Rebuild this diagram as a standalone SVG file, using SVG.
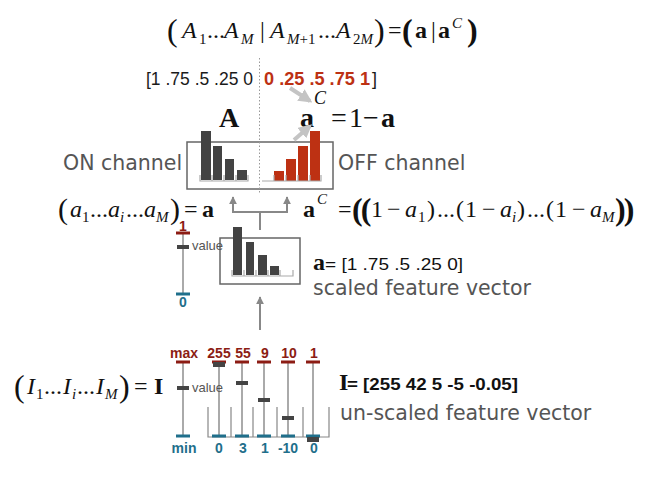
<svg xmlns="http://www.w3.org/2000/svg" width="667" height="481" viewBox="0 0 667 481">
<style>
.m{font-family:"Liberation Serif","Times New Roman",serif;font-size:24px;fill:#111}
.i{font-style:italic}
.b{font-weight:bold}
.sub{font-size:15px}
.big{font-size:32px}
.ar{font-family:"Liberation Sans",Arial,sans-serif}
.lbl{font-family:"DejaVu Sans",Verdana,sans-serif;font-size:20.5px;fill:#555}
.dk{fill:#434343}
.rd{fill:#bd3113}
.ax{fill:none;stroke:#aaa;stroke-width:1.2}
.box{fill:none;stroke:#666;stroke-width:1.5}
.col{stroke:#aaa;stroke-width:2}
.tmax{stroke:#8c1c14;stroke-width:3}
.tmin{stroke:#1f6f8b;stroke-width:3}
.mx{font-family:"Liberation Sans",Arial,sans-serif;font-size:14px;font-weight:bold;fill:#8c1c14;text-anchor:middle}
.mn{font-family:"Liberation Sans",Arial,sans-serif;font-size:14px;font-weight:bold;fill:#1f6f8b;text-anchor:middle}
.val{font-family:"Liberation Sans",Arial,sans-serif;font-size:13px;fill:#555}
.conn{fill:none;stroke:#888;stroke-width:2}
.lg{fill:none;stroke:#c4c4c4;stroke-width:4}
</style>
<defs>
<marker id="ah" viewBox="0 0 10 10" refX="9" refY="5" markerWidth="4" markerHeight="4" orient="auto" markerUnits="strokeWidth">
<path d="M0,0 L10,5 L0,10 z" fill="#888"/>
</marker>
<marker id="ahl" viewBox="0 0 10 10" refX="8" refY="5" markerWidth="3.4" markerHeight="3.4" orient="auto" markerUnits="strokeWidth">
<path d="M0,0 L10,5 L0,10 z" fill="#c4c4c4"/>
</marker>
</defs>

<!-- top equation -->
<g id="eq-top" class="m">
<text x="167" y="41" class="big">(</text>
<text x="182" y="38" class="i">A</text>
<text x="199" y="44" class="sub">1</text>
<text x="207" y="38">...</text>
<text x="224" y="38" class="i">A</text>
<text x="241" y="44" class="sub i">M</text>
<text x="260" y="38">|</text>
<text x="270" y="38" class="i">A</text>
<text x="287" y="44" class="sub"><tspan class="i">M</tspan>+1</text>
<text x="318" y="38">...</text>
<text x="336" y="38" class="i">A</text>
<text x="353" y="44" class="sub">2<tspan class="i">M</tspan></text>
<text x="374" y="41" class="big">)</text>
<text x="388" y="38">=</text>
<text x="402" y="41" class="big b">(</text>
<text x="415" y="38" class="b">a</text>
<text x="431" y="38">|</text>
<text x="438" y="38" class="b">a</text>
<text x="452" y="28" class="sub i">C</text>
<text x="467" y="41" class="big b">)</text>
</g>

<!-- vector values -->
<g id="vec-top">
<text x="146" y="85" class="ar" font-size="18" fill="#1a1a1a" textLength="107" lengthAdjust="spacingAndGlyphs">[1 .75 .5 .25 0</text>
<text x="264" y="85" class="ar" font-size="18" font-weight="bold" fill="#bd3113" textLength="106" lengthAdjust="spacingAndGlyphs">0 .25 .5 .75 1</text>
<text x="372" y="85" class="ar" font-size="18" fill="#1a1a1a">]</text>
</g>

<!-- complement equation -->
<g id="eq-complement" class="m" style="font-size:28px">
<text x="300" y="127" class="b">a</text>
<text x="314" y="104" class="i" font-size="18">C</text>
<text x="331" y="127">=</text>
<text x="349" y="127">1</text>
<text x="363" y="127">−</text>
<text x="381" y="127" class="b">a</text>
</g>

<g id="label-A" class="m">
<text x="219" y="127" class="b" font-size="28">A</text>
</g>

<!-- channel box -->
<g id="channel-box">
<rect x="187" y="142" width="146" height="47" class="box"/>
<rect x="201" y="131" width="10" height="49" class="dk"/>
<rect x="213" y="146" width="9" height="34" class="dk"/>
<rect x="225" y="159" width="9" height="21" class="dk"/>
<rect x="237" y="170" width="10" height="10" class="dk"/>
<path d="M200,175V181H248V175M212,175V181M224,175V181M236,175V181" class="ax"/>
<rect x="274" y="171" width="10" height="10" class="rd"/>
<rect x="286" y="159" width="10" height="22" class="rd"/>
<rect x="298" y="146" width="10" height="35" class="rd"/>
<rect x="310" y="131" width="10" height="50" class="rd"/>
<path d="M262,181H321V175M274,175V181M286,175V181M298,175V181M310,175V181" class="ax"/>
<text x="63" y="170" class="lbl">ON channel</text>
<text x="338" y="170" class="lbl">OFF channel</text>
</g>

<!-- a equation -->
<g id="eq-a" class="m">
<text x="58" y="219" font-size="30">(</text>
<text x="70" y="217" class="i">a</text>
<text x="82" y="222" class="sub">1</text>
<text x="90" y="217">...</text>
<text x="108" y="217" class="i">a</text>
<text x="120" y="222" class="sub i">i</text>
<text x="126" y="217">...</text>
<text x="144" y="217" class="i">a</text>
<text x="156" y="222" class="sub i">M</text>
<text x="170" y="219" font-size="30">)</text>
<text x="184" y="217">=</text>
<text x="202" y="217" class="b">a</text>
</g>

<!-- aC equation -->
<g id="eq-ac" class="m">
<text x="303" y="217" class="b">a</text>
<text x="317" y="204" class="sub i">C</text>
<text x="338" y="217">=</text>
<text x="352" y="220" class="big b" letter-spacing="-2">((</text>
<text x="371" y="217">1</text>
<text x="387" y="217">−</text>
<text x="405" y="217" class="i">a</text>
<text x="418" y="222" class="sub">1</text>
<text x="427" y="217">)</text>
<text x="437" y="217">...</text>
<text x="456" y="217">(</text>
<text x="465" y="217">1</text>
<text x="482" y="217">−</text>
<text x="500" y="217" class="i">a</text>
<text x="512" y="222" class="sub i">i</text>
<text x="517" y="217">)</text>
<text x="527" y="217">...</text>
<text x="546" y="217">(</text>
<text x="555" y="217">1</text>
<text x="572" y="217">−</text>
<text x="590" y="217" class="i">a</text>
<text x="602" y="222" class="sub i">M</text>
<text x="615" y="220" class="big b" letter-spacing="-2">))</text>
</g>

<!-- scaled histogram -->
<g id="scaled-box">
<rect x="220" y="238" width="80" height="46" class="box"/>
<rect x="233" y="227" width="9" height="48" class="dk"/>
<rect x="246" y="242" width="8" height="33" class="dk"/>
<rect x="258" y="255" width="9" height="20" class="dk"/>
<rect x="270" y="266" width="9" height="9" class="dk"/>
<path d="M232,270V276H293V270M244,270V276M256,270V276M268,270V276M280,270V276" class="ax"/>
</g>

<g id="scale-mid">
<line x1="183" y1="233" x2="183" y2="294" class="col"/>
<line x1="176" y1="233" x2="190" y2="233" class="tmax"/>
<line x1="176" y1="294" x2="190" y2="294" class="tmin"/>
<rect x="177" y="245" width="12" height="4" fill="#444"/>
<text x="183" y="231" class="mx">1</text>
<text x="183" y="307" class="mn">0</text>
<text x="192" y="250" class="val">value</text>
</g>

<g id="scaled-label">
<text x="313" y="270" class="m b">a</text>
<text x="325" y="270" class="ar" font-size="17" fill="#111" textLength="138" lengthAdjust="spacingAndGlyphs">= [1 .75 .5 .25 0]</text>
<text x="313" y="295" class="lbl">scaled feature vector</text>
</g>

<!-- unscaled -->
<g id="unscaled">
<path d="M208,407V437H329V407M231,407V437M253,407V437M277,407V437M303,407V437" fill="none" stroke="#888" stroke-width="1.2"/>
<line x1="183" y1="362" x2="183" y2="436" class="col"/>
<line x1="219" y1="362" x2="219" y2="436" class="col"/>
<line x1="242" y1="362" x2="242" y2="436" class="col"/>
<line x1="264" y1="362" x2="264" y2="436" class="col"/>
<line x1="288" y1="362" x2="288" y2="436" class="col"/>
<line x1="313" y1="362" x2="313" y2="436" class="col"/>
<path d="M176,362H190M212,362H226M235,362H249M257,362H271M281,362H295M306,362H320" class="tmax"/>
<path d="M176,436H190M212,436H226M235,436H249M257,436H271M281,436H295M306,436H320" class="tmin"/>
<g fill="#444">
<rect x="177" y="386" width="12" height="4"/>
<rect x="213" y="362" width="12" height="5"/>
<rect x="236" y="381" width="12" height="4"/>
<rect x="258" y="398" width="12" height="4"/>
<rect x="282" y="416" width="12" height="4"/>
<rect x="307" y="437" width="12" height="5"/>
</g>
<text x="192" y="392" class="val">value</text>
<text x="184" y="358" class="mx">max</text>
<text x="219" y="358" class="mx">255</text>
<text x="243" y="358" class="mx">55</text>
<text x="265" y="358" class="mx">9</text>
<text x="289" y="358" class="mx">10</text>
<text x="314" y="358" class="mx">1</text>
<text x="184" y="453" class="mn">min</text>
<text x="219" y="453" class="mn">0</text>
<text x="243" y="453" class="mn">3</text>
<text x="265" y="453" class="mn">1</text>
<text x="288" y="453" class="mn">-10</text>
<text x="314" y="453" class="mn">0</text>
</g>

<g id="unscaled-label">
<text x="339" y="390" class="m b">I</text>
<text x="347" y="390" class="ar" font-size="17" font-weight="bold" fill="#111" textLength="171" lengthAdjust="spacingAndGlyphs">= [255 42 5 -5 -0.05]</text>
<text x="340" y="420" class="lbl">un-scaled feature vector</text>
</g>

<g id="eq-I" class="m">
<text x="14" y="397" class="big">(</text>
<text x="27" y="394" class="i">I</text>
<text x="36" y="399" class="sub">1</text>
<text x="44" y="394">...</text>
<text x="63" y="394" class="i">I</text>
<text x="72" y="399" class="sub i">i</text>
<text x="77" y="394">...</text>
<text x="96" y="394" class="i">I</text>
<text x="105" y="399" class="sub i">M</text>
<text x="119" y="397" class="big">)</text>
<text x="134" y="394">=</text>
<text x="154" y="394" class="b">I</text>
</g>

<!-- connectors -->
<g id="connectors">
<line x1="259.5" y1="58" x2="259.5" y2="194" stroke="#999" stroke-width="1" stroke-dasharray="1.5,2"/>
<line x1="290" y1="88" x2="310" y2="101" class="lg" marker-end="url(#ahl)"/>
<line x1="294" y1="140" x2="310" y2="126" class="lg" marker-end="url(#ahl)"/>
<path d="M260,230V212M233,212H287" class="conn"/>
<line x1="233" y1="213" x2="233" y2="197" class="conn" marker-end="url(#ah)"/>
<line x1="287" y1="213" x2="287" y2="197" class="conn" marker-end="url(#ah)"/>
<line x1="260" y1="330" x2="260" y2="297" class="conn" marker-end="url(#ah)"/>
</g>
</svg>
